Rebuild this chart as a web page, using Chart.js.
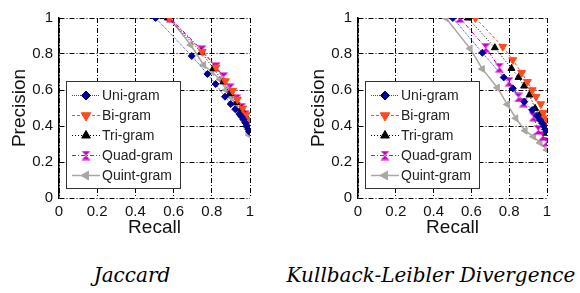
<!DOCTYPE html>
<html>
<head>
<meta charset="utf-8">
<script src="https://cdn.jsdelivr.net/npm/chart.js@4/dist/chart.umd.min.js"></script>
<style>
  body { margin: 0; background: #fff; width: 580px; height: 293px; position: relative; overflow: hidden; }
  .box { position: absolute; top: 0; height: 240px; }
  .cap { position: absolute; top: 264px; font: italic 20px "DejaVu Serif", serif; line-height: 22px; white-space: nowrap; transform: translateX(-50%); color: #000; }
</style>
</head>
<body>
<div class="box" style="left:0;width:264px"><canvas id="jaccardChart"></canvas></div>
<div class="box" style="left:299px;width:262px"><canvas id="klChart"></canvas></div>
<div class="cap" style="left:132px">Jaccard</div>
<div class="cap" style="left:431px">Kullback-Leibler Divergence</div>
<script>
// series names (legend)
const seriesNames = ['Uni-gram', 'Bi-gram', 'Tri-gram', 'Quad-gram', 'Quint-gram'];
const axisTicks = [0, 0.2, 0.4, 0.6, 0.8, 1];

// Jaccard
const jacUniRecall = [0.506, 0.695, 0.777, 0.82, 0.869, 0.899, 0.923, 0.944, 0.956, 0.965, 0.975, 0.983, 0.991, 0.997];
const jacUniPrecision = [1.0, 0.789, 0.689, 0.633, 0.563, 0.522, 0.493, 0.467, 0.452, 0.437, 0.418, 0.4, 0.382, 0.368];
const jacBiRecall = [0.578, 0.75, 0.822, 0.871, 0.909, 0.934, 0.962, 0.979, 0.991, 1.0];
const jacBiPrecision = [1.0, 0.813, 0.726, 0.65, 0.596, 0.548, 0.498, 0.461, 0.433, 0.41];
const jacTriRecall = [0.57, 0.745, 0.808, 0.86, 0.895, 0.93, 0.955, 0.974, 0.988, 0.996];
const jacTriPrecision = [1.0, 0.81, 0.72, 0.645, 0.58, 0.53, 0.495, 0.46, 0.42, 0.38];
const jacQuadRecall = [0.582, 0.748, 0.822, 0.862, 0.896, 0.93, 0.956, 0.975, 0.99, 0.998];
const jacQuadPrecision = [1.0, 0.822, 0.728, 0.672, 0.61, 0.55, 0.502, 0.46, 0.42, 0.385];
const jacQuintRecall = [0.578, 0.69, 0.757, 0.8, 0.843, 0.875, 0.9, 0.925, 0.95, 0.97, 0.985, 0.996];
const jacQuintPrecision = [1.0, 0.85, 0.739, 0.7, 0.659, 0.6, 0.56, 0.52, 0.475, 0.43, 0.39, 0.35];

// Kullback-Leibler
const klUniRecall = [0.502, 0.658, 0.771, 0.819, 0.88, 0.922, 0.947, 0.963, 0.975, 0.985, 0.993, 0.998];
const klUniPrecision = [1.0, 0.807, 0.67, 0.609, 0.535, 0.489, 0.456, 0.433, 0.415, 0.398, 0.382, 0.369];
const klBiRecall = [0.621, 0.766, 0.819, 0.866, 0.896, 0.922, 0.942, 0.967, 0.981, 0.991, 1.0];
const klBiPrecision = [1.0, 0.841, 0.767, 0.696, 0.646, 0.6, 0.563, 0.522, 0.474, 0.443, 0.419];
const klTriRecall = [0.581, 0.724, 0.812, 0.849, 0.879, 0.907, 0.937, 0.96, 0.978, 0.99, 0.998];
const klTriPrecision = [1.0, 0.835, 0.72, 0.67, 0.622, 0.572, 0.498, 0.46, 0.425, 0.39, 0.36];
const klQuadRecall = [0.539, 0.676, 0.748, 0.799, 0.849, 0.875, 0.928, 0.954, 0.978, 0.998];
const klQuadPrecision = [1.0, 0.835, 0.724, 0.646, 0.559, 0.53, 0.452, 0.378, 0.345, 0.313];
const klQuintRecall = [0.465, 0.593, 0.658, 0.737, 0.79, 0.835, 0.884, 0.928, 0.963, 1.0];
const klQuintPrecision = [1.0, 0.83, 0.717, 0.613, 0.52, 0.443, 0.374, 0.341, 0.307, 0.267];

// hourglass marker for Quad-gram
function hourglass(color) {
  const c = document.createElement('canvas');
  c.width = 10; c.height = 10;
  const g = c.getContext('2d');
  g.fillStyle = color;
  g.beginPath();
  g.moveTo(0.5, 0.5); g.lineTo(9.5, 0.5); g.lineTo(5, 5); g.closePath();
  g.moveTo(5, 5); g.lineTo(9.5, 9.5); g.lineTo(0.5, 9.5); g.closePath();
  g.fill();
  return c;
}

const styles = [
  { color: '#000099', line: '#3344cc', dash: [1, 1], width: 1, pointStyle: 'rectRot', rotation: 0, radius: 3.5 },
  { color: '#ff4a1c', line: '#ff4a1c', dash: [3, 2], width: 1, pointStyle: 'triangle', rotation: 180, radius: 4.5 },
  { color: '#000000', line: '#000000', dash: [1, 2], width: 1, pointStyle: 'triangle', rotation: 0, radius: 4 },
  { color: '#cc00cc', line: '#cc00cc', dash: [4, 2, 1, 2], width: 1, pointStyle: hourglass('#cc00cc'), rotation: 0, radius: 4 },
  { color: '#aaa6a0', line: '#aaa6a0', dash: [], width: 1.5, pointStyle: 'triangle', rotation: 270, radius: 4 }
];

function toPoints(rs, ps) {
  return rs.map((r, i) => ({ x: r, y: ps[i] }));
}

// legend drawn inside the plot area, lower left
const insideLegend = {
  id: 'insideLegend',
  afterDatasetsDraw(chart) {
    const ctx = chart.ctx;
    const a = chart.chartArea;
    const bx = a.left + 7, by = a.bottom - 117, bw = 114, bh = 107;
    ctx.save();
    ctx.fillStyle = '#fff';
    ctx.fillRect(bx, by, bw, bh);
    ctx.strokeStyle = '#333';
    ctx.lineWidth = 1;
    ctx.strokeRect(bx + 0.5, by + 0.5, bw, bh);
    ctx.font = '14px "Liberation Sans", Arial, sans-serif';
    ctx.textBaseline = 'middle';
    seriesNames.forEach((name, i) => {
      const s = styles[i];
      const y = by + 14.5 + i * 20;
      ctx.strokeStyle = s.line;
      ctx.lineWidth = s.width;
      ctx.setLineDash(s.dash);
      ctx.beginPath();
      ctx.moveTo(bx + 6, y);
      ctx.lineTo(bx + 34, y);
      ctx.stroke();
      ctx.setLineDash([]);
      ctx.fillStyle = s.color;
      ctx.strokeStyle = s.color;
      ctx.lineWidth = 1;
      Chart.helpers.drawPoint(ctx, { pointStyle: s.pointStyle, rotation: s.rotation, radius: s.radius + 1, borderWidth: 1 }, bx + 20, y);
      ctx.fillStyle = '#222';
      ctx.fillText(name, bx + 36, y + 1);
    });
    ctx.restore();
  }
};

function makeChart(id, recalls, precisions) {
  const datasets = seriesNames.map((name, i) => ({
    label: name,
    data: toPoints(recalls[i], precisions[i]),
    borderColor: styles[i].line,
    borderWidth: styles[i].width,
    borderDash: styles[i].dash,
    pointStyle: styles[i].pointStyle,
    pointRotation: styles[i].rotation,
    pointRadius: styles[i].radius,
    pointBackgroundColor: styles[i].color,
    pointBorderColor: styles[i].color,
    pointBorderWidth: 1,
    tension: 0,
    fill: false
  }));

  const tickFont = { family: '"Liberation Sans", Arial, sans-serif', size: 15 };
  const titleFont = { family: '"Liberation Sans", Arial, sans-serif', size: 19 };
  const fmt = v => String(Number(v.toFixed(1)));

  new Chart(document.getElementById(id).getContext('2d'), {
    type: 'line',
    data: { datasets: datasets },
    options: {
      responsive: true,
      maintainAspectRatio: false,
      animation: false,
      layout: { padding: { top: 18, right: 14, left: 0, bottom: 0 } },
      scales: {
        x: {
          type: 'linear',
          min: 0,
          max: 1,
          afterBuildTicks(scale) { scale.ticks = axisTicks.map(v => ({ value: v })); },
          afterFit(scale) { scale.height = 42; },
          grid: { color: '#000', lineWidth: 1, drawTicks: false },
          border: { display: false, dash: [5, 2, 1, 2] },
          ticks: { color: '#111', font: tickFont, padding: 5, maxRotation: 0, callback: fmt },
          title: { display: true, text: 'Recall', color: '#111', font: titleFont, padding: { top: 0, bottom: 1 } }
        },
        y: {
          min: 0,
          max: 1,
          afterBuildTicks(scale) { scale.ticks = axisTicks.map(v => ({ value: v })); },
          afterFit(scale) { scale.width = 59; },
          grid: { color: '#000', lineWidth: 1, drawTicks: false },
          border: { display: true, color: '#000', width: 1.5, dash: [5, 2, 1, 2] },
          ticks: { color: '#111', font: tickFont, padding: 6, callback: fmt },
          title: { display: true, text: 'Precision', color: '#111', font: titleFont, padding: { top: 8, bottom: 0 } }
        }
      },
      plugins: {
        legend: { display: false },
        tooltip: { enabled: false }
      }
    },
    plugins: [insideLegend]
  });
}

makeChart('jaccardChart',
  [jacUniRecall, jacBiRecall, jacTriRecall, jacQuadRecall, jacQuintRecall],
  [jacUniPrecision, jacBiPrecision, jacTriPrecision, jacQuadPrecision, jacQuintPrecision]);

makeChart('klChart',
  [klUniRecall, klBiRecall, klTriRecall, klQuadRecall, klQuintRecall],
  [klUniPrecision, klBiPrecision, klTriPrecision, klQuadPrecision, klQuintPrecision]);
</script>
</body>
</html>
